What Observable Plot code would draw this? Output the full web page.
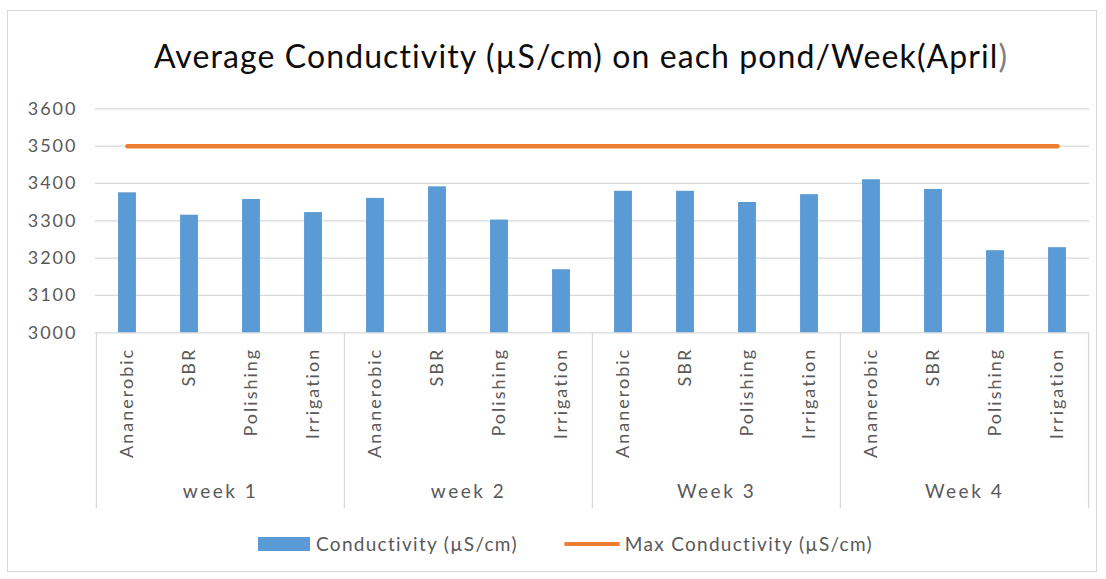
<!DOCTYPE html>
<html>
<head>
<meta charset="utf-8">
<script src="https://cdn.jsdelivr.net/npm/d3@7"></script>
<script src="https://cdn.jsdelivr.net/npm/@observablehq/plot@0.6"></script>
<style>
  html, body { margin: 0; padding: 0; background: #fff; }
  #wrap { position: relative; width: 1106px; height: 579px; overflow: hidden; font-family: Lato, "Open Sans", sans-serif; }
  #frame { position: absolute; left: 7px; top: 10px; width: 1090px; height: 562px; border: 1px solid #d9d9d9; box-sizing: border-box; }
  #title { position: absolute; left: 0; width: 1162px; top: 36px; text-align: center; font-size: 32px; letter-spacing: 1.1px; color: #0d0d0d; white-space: nowrap; }
  #plot { position: absolute; left: 0; top: 0; }
  #legend { position: absolute; top: 532px; left: 258px; display: flex; align-items: center; font-size: 19px; letter-spacing: 1.3px; color: #595959; white-space: nowrap; }
  .sw-bar { width: 52px; height: 14px; background: #5B9BD5; margin-right: 6px; }
  .sw-line { width: 56px; height: 4px; background: #ED7D31; border-radius: 2px; margin-left: 46px; margin-right: 5px; }
  g[aria-label="y-axis tick label"] text { letter-spacing: 2px; }
  g[aria-label="x-axis tick label"] text { letter-spacing: 2px; }
  g[aria-label="text"] text { letter-spacing: 2.5px; }
</style>
</head>
<body>
<div id="wrap">
  <div id="frame"></div>
  <div id="plot"></div>
  <div id="title"></div>
  <div id="legend"></div>
</div>
<script>
// ---- data ----
const weeks = ["week 1", "week 2", "Week 3", "Week 4"];
const ponds = ["Ananerobic", "SBR", "Polishing", "Irrigation"];
const conductivity = [
  3375, 3315, 3357, 3322,   // week 1
  3360, 3391, 3302, 3169,   // week 2
  3379, 3379, 3349, 3370,   // Week 3
  3410, 3384, 3220, 3228    // Week 4
];
const maxConductivity = [
  3500, 3500, 3500, 3500,
  3500, 3500, 3500, 3500,
  3500, 3500, 3500, 3500,
  3500, 3500, 3500, 3500
];
const yTicks = [3000, 3100, 3200, 3300, 3400, 3500, 3600];
const titleText = "Average Conductivity (µS/cm) on each pond/Week(April";
const seriesNames = ["Conductivity (µS/cm)", "Max Conductivity (µS/cm)"];

// ---- table ----
const rows = [];
weeks.forEach((w, wi) => ponds.forEach((p, pi) => {
  const i = wi * ponds.length + pi;
  rows.push({key: w + "|" + p, week: w, pond: p, value: conductivity[i], max: maxConductivity[i]});
}));
const keys = rows.map(d => d.key);
const groupFirst = weeks.map(w => rows.find(d => d.week === w).key);
const groupSecond = weeks.map(w => rows.filter(d => d.week === w)[1].key);

// ---- layout ----
const W = 1106, H = 579;
const mL = 95, mR = 17, mT = 108.3, mB = 579 - 332.3;
const step = (W - mL - mR) / keys.length;
const frameH = H - mT - mB;
const barW = 18;
const inset = (step - barW) / 2;
const grey = "#d9d9d9";

const chart = Plot.plot({
  width: W,
  height: H,
  marginLeft: mL,
  marginRight: mR,
  marginTop: mT,
  marginBottom: mB,
  style: {fontFamily: "Lato, 'Open Sans', sans-serif", color: "#595959", background: "transparent", overflow: "visible"},
  x: {type: "band", domain: keys, padding: 0, axis: null},
  y: {domain: [yTicks[0], yTicks[yTicks.length - 1]], axis: null},
  marks: [
    Plot.gridY(yTicks, {stroke: grey, strokeOpacity: 1, strokeWidth: 1.3}),
    Plot.axisY(yTicks, {tickSize: 0, tickPadding: 18, fontSize: 18, label: null, tickFormat: d3.format("d")}),
    Plot.ruleX(groupFirst, {x: d => d, dx: -step / 2, insetTop: frameH, insetBottom: -176, stroke: grey, strokeWidth: 1.3}),
    Plot.ruleX([keys[keys.length - 1]], {x: d => d, dx: step / 2, insetTop: frameH, insetBottom: -176, stroke: grey, strokeWidth: 1.3}),
    Plot.barY(rows, {x: "key", y: "value", fill: "#5B9BD5", insetLeft: inset, insetRight: inset, clip: true}),
    Plot.lineY(rows, {x: "key", y: "max", stroke: "#ED7D31", strokeWidth: 4.5, strokeLinecap: "round"}),
    Plot.axisX({tickSize: 0, tickRotate: -90, tickPadding: 15, fontSize: 18, tickFormat: k => k.split("|")[1], label: null}),
    Plot.text(groupSecond, {x: d => d, text: d => d.split("|")[0], dx: step / 2, frameAnchor: "bottom", dy: 165, fontSize: 19, fill: "#595959"})
  ]
});
document.getElementById("plot").appendChild(chart);

document.getElementById("title").innerHTML = titleText + '<span style="color:#7f7f7f">)</span>';
document.getElementById("legend").innerHTML =
  '<div class="sw-bar"></div><span>' + seriesNames[0] + '</span>' +
  '<div class="sw-line"></div><span>' + seriesNames[1] + '</span>';
</script>
</body>
</html>
